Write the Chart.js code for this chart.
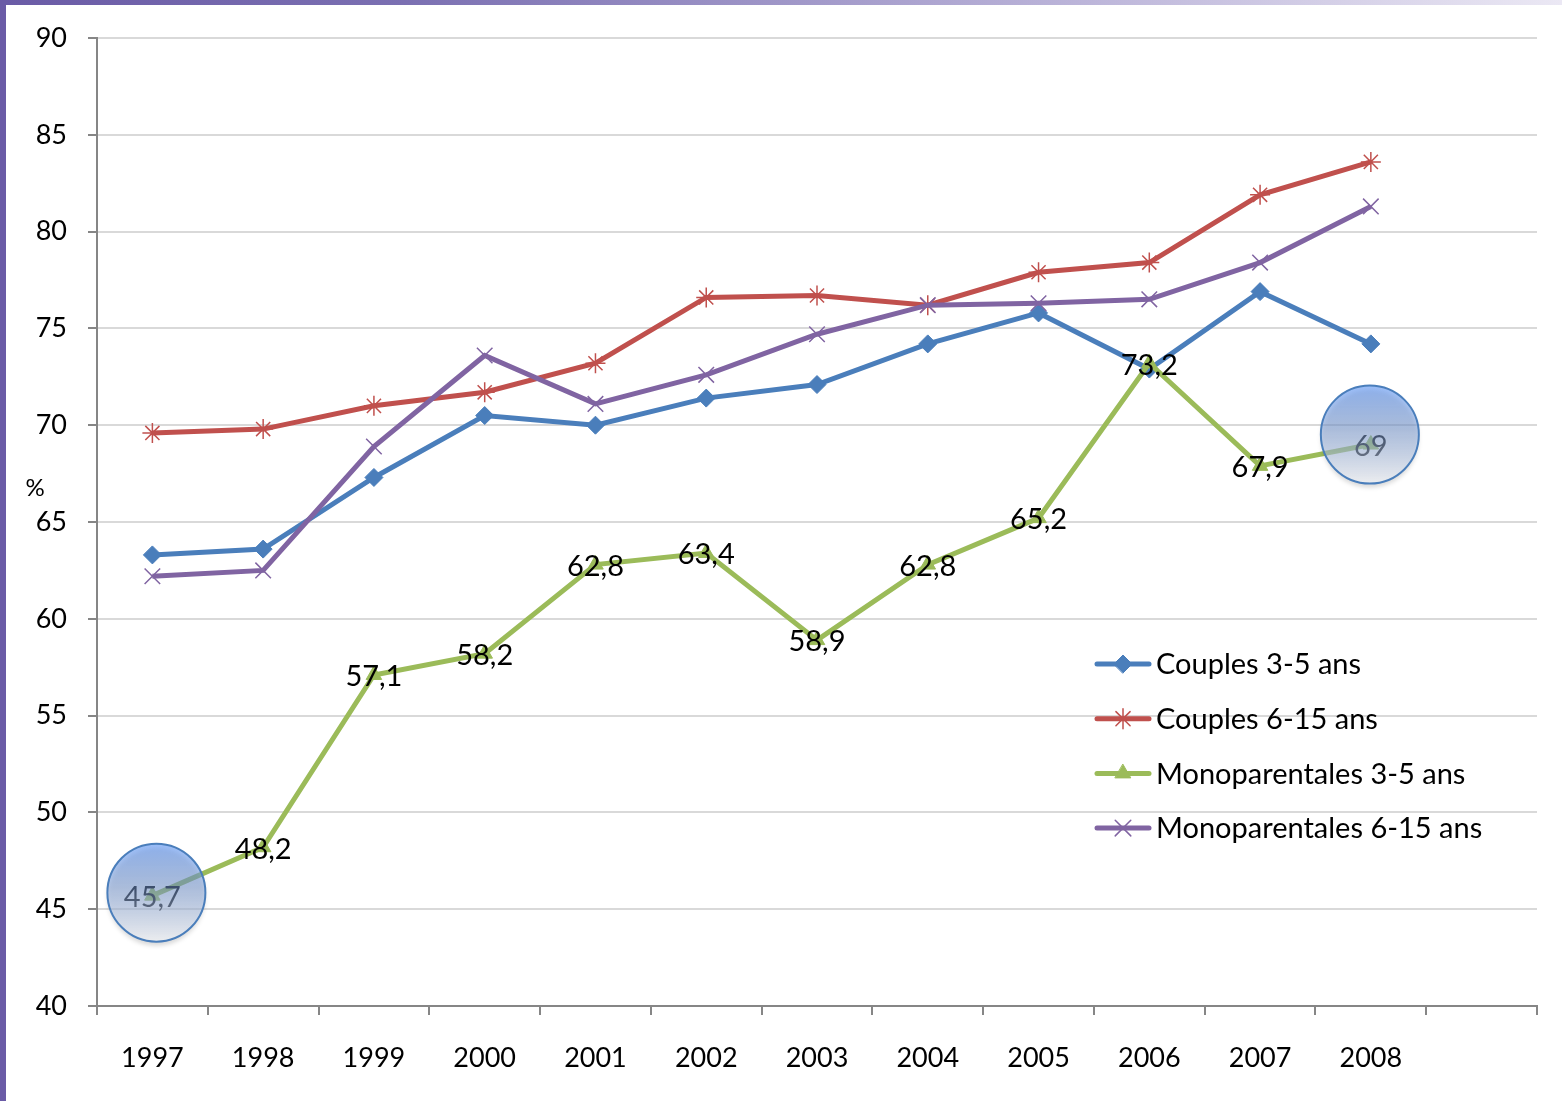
<!DOCTYPE html>
<html>
<head>
<meta charset="utf-8">
<title>Couples / Monoparentales</title>
<script src="https://cdn.jsdelivr.net/npm/chart.js@4.4.0/dist/chart.umd.min.js"></script>
<style>
body { margin: 0; background: #fff; overflow: hidden; }
#wrap { position: relative; width: 1562px; height: 1101px; }
#topbar { position: absolute; left: 0; top: 0; width: 1562px; height: 5px; z-index: 2;
  background: linear-gradient(to right, #6a5ba6 0%, #7b70b2 26%, #bdb6da 70%, #ebe8f4 100%); }
#leftbar { position: absolute; left: 0; top: 0; width: 6px; height: 1101px; background: #6a5ba6; z-index: 2; }
canvas { position: absolute; left: 0; top: 0; }
</style>
</head>
<body>
<div id="wrap">
  <div id="topbar"></div>
  <div id="leftbar"></div>
  <canvas id="chart" width="1562" height="1101"></canvas>
</div>
<script>
// values
const years = ['1997', '1998', '1999', '2000', '2001', '2002', '2003', '2004', '2005', '2006', '2007', '2008'];
const categories = years.concat(['']);
const couples35 = [63.3, 63.6, 67.3, 70.5, 70.0, 71.4, 72.1, 74.2, 75.8, 72.9, 76.9, 74.2];
const couples615 = [69.6, 69.8, 71.0, 71.7, 73.2, 76.6, 76.7, 76.2, 77.9, 78.4, 81.9, 83.6];
const mono35 = [45.7, 48.2, 57.1, 58.2, 62.8, 63.4, 58.9, 62.8, 65.2, 73.2, 67.9, 69];
const mono615 = [62.2, 62.5, 68.9, 73.6, 71.1, 72.6, 74.7, 76.2, 76.3, 76.5, 78.4, 81.3];
const yMin = 40, yMax = 90, yStep = 5;
const circled = [0, 11]; // points of Monoparentales 3-5 ans circled in the original

const FONT = 'Lato, "Open Sans", sans-serif';
const circleShift = [[4, -3], [-1, -10]]; // the hand-drawn circles sit a little off the points

const series = [
  { label: 'Couples 3-5 ans', data: couples35, color: '#4a7ebb', style: 'rectRot', radius: 9, bw: 1, order: 4 },
  { label: 'Couples 6-15 ans', data: couples615, color: '#c0504d', style: 'star', radius: 10, bw: 1.5, order: 3 },
  { label: 'Monoparentales 3-5 ans', data: mono35, color: '#9bbb59', style: 'triangle', radius: 9, bw: 1, order: 2 },
  { label: 'Monoparentales 6-15 ans', data: mono615, color: '#8064a2', style: 'crossRot', radius: 11, bw: 1.5, order: 1 }
];

const extras = {
  id: 'extras',
  afterDatasetsDraw(chart) {
    const ctx = chart.ctx;
    const xs = chart.scales.x, ys = chart.scales.y;
    ctx.save();
    // data labels on the green series
    ctx.font = '29px ' + FONT;
    ctx.fillStyle = '#000';
    ctx.textAlign = 'center';
    ctx.textBaseline = 'middle';
    mono35.forEach((v, i) => {
      ctx.fillText(String(v).replace('.', ','), xs.getPixelForValue(i), ys.getPixelForValue(v) + 2);
    });
    // highlight circles
    circled.forEach((i, k) => {
      const cx = xs.getPixelForValue(i) + circleShift[k][0];
      const cy = ys.getPixelForValue(mono35[i]) + circleShift[k][1];
      const r = 49;
      ctx.save();
      ctx.shadowColor = 'rgba(0,0,0,0.25)';
      ctx.shadowBlur = 4;
      ctx.shadowOffsetY = 4;
      const g = ctx.createLinearGradient(0, cy - r, 0, cy + r);
      g.addColorStop(0, 'rgba(110,160,245,0.7)');
      g.addColorStop(0.45, 'rgba(120,155,215,0.5)');
      g.addColorStop(1, 'rgba(248,250,254,0.6)');
      ctx.beginPath();
      ctx.arc(cx, cy, r, 0, Math.PI * 2);
      ctx.fillStyle = g;
      ctx.fill();
      ctx.restore();
      ctx.beginPath();
      ctx.arc(cx, cy, r, 0, Math.PI * 2);
      ctx.lineWidth = 2;
      ctx.strokeStyle = '#4a7ebb';
      ctx.stroke();
    });
    ctx.restore();
  },
  afterDraw(chart) {
    const ctx = chart.ctx;
    const area = chart.chartArea;
    ctx.save();
    // "%" axis caption
    ctx.font = '24px ' + FONT;
    ctx.fillStyle = '#000';
    ctx.textAlign = 'center';
    ctx.textBaseline = 'middle';
    ctx.fillText('%', 35, 488);
    // legend inside the plot
    const lx = area.left + 1000, ly = 664, rowH = 54.7;
    ctx.font = '29px ' + FONT;
    ctx.textAlign = 'left';
    series.forEach((s, k) => {
      const y = ly + k * rowH;
      ctx.strokeStyle = s.color;
      ctx.fillStyle = s.color;
      ctx.lineWidth = 5;
      ctx.lineCap = 'round';
      ctx.beginPath();
      ctx.moveTo(lx, y);
      ctx.lineTo(lx + 52, y);
      ctx.stroke();
      ctx.lineWidth = s.bw;
      Chart.helpers.drawPoint(ctx, { pointStyle: s.style, radius: s.radius, rotation: 0, borderWidth: s.bw }, lx + 26, y);
      ctx.fillStyle = '#000';
      ctx.fillText(s.label, lx + 59, y + 1);
    });
    ctx.restore();
  }
};

new Chart(document.getElementById('chart'), {
  type: 'line',
  data: {
    labels: categories,
    datasets: series.map(s => ({
      label: s.label,
      data: s.data,
      borderColor: s.color,
      backgroundColor: s.color,
      borderWidth: 5,
      tension: 0,
      pointStyle: s.style,
      pointRadius: s.radius,
      pointBorderWidth: s.bw,
      pointBorderColor: s.color,
      pointBackgroundColor: s.color,
      order: s.order
    }))
  },
  options: {
    responsive: false,
    animation: false,
    devicePixelRatio: 1,
    layout: { padding: { top: 38, right: 25, bottom: 0, left: 0 } },
    plugins: { legend: { display: false }, tooltip: { enabled: false } },
    scales: {
      x: {
        offset: true,
        grid: { offset: true, drawOnChartArea: false, tickLength: 9, color: '#868686', lineWidth: 2 },
        border: { color: '#868686', width: 2 },
        ticks: { color: '#000', font: { family: FONT, size: 27 }, padding: 27, maxRotation: 0, autoSkip: false },
        afterFit: s => { s.height = 95; }
      },
      y: {
        min: yMin, max: yMax,
        ticks: { stepSize: yStep, color: '#000', font: { family: FONT, size: 27 }, padding: 21 },
        grid: { color: '#d9d9d9', lineWidth: 2, tickColor: '#868686', tickLength: 9 },
        border: { color: '#868686', width: 2 },
        afterFit: s => { s.width = 97; }
      }
    }
  },
  plugins: [extras]
});
</script>
</body>
</html>
